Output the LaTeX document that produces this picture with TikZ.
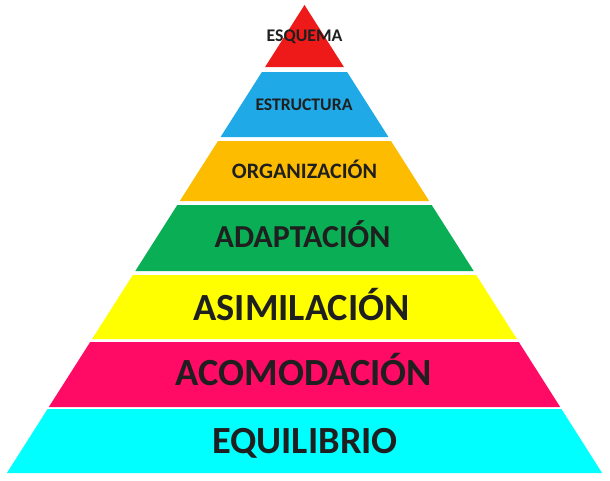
\documentclass[tikz,border=0pt]{standalone}
\usepackage{fontspec}
\setmainfont{Carlito}
\usepackage{tikz}

\definecolor{esqred}{HTML}{EE1A1A}
\definecolor{estblue}{HTML}{1FA9E6}
\definecolor{orgorange}{HTML}{FDBC00}
\definecolor{adagreen}{HTML}{0AAE55}
\definecolor{asiyellow}{HTML}{FFFF00}
\definecolor{acopink}{HTML}{FF0A64}
\definecolor{equcyan}{HTML}{00FFFF}

\tikzset{
  lbl/.style={anchor=base, inner sep=0pt, text=black!88, font=\bfseries},
}

\begin{document}
\begin{tikzpicture}[x=1pt, y=-1pt]
  \filldraw[fill=white, draw=none] (0,0) rectangle (610,480);
  \useasboundingbox (0,0) rectangle (610,480);
  \filldraw[fill=esqred, draw=none] (304.5,5) -- (343.9,67) -- (265.1,67) -- cycle;
  \filldraw[fill=estblue, draw=none] (261.9,72) -- (347.1,72) -- (388.45,137) -- (220.55,137) -- cycle;
  \filldraw[fill=orgorange, draw=none] (218.0,141) -- (391.0,141) -- (429.2,201) -- (179.8,201) -- cycle;
  \filldraw[fill=adagreen, draw=none] (177.3,205) -- (431.7,205) -- (473.7,271) -- (135.3,271) -- cycle;
  \filldraw[fill=asiyellow, draw=none] (132.8,275) -- (476.2,275) -- (516.9,339) -- (92.1,339) -- cycle;
  \filldraw[fill=acopink, draw=none] (90.2,342) -- (518.8,342) -- (560.2,407) -- (48.8,407) -- cycle;
  \filldraw[fill=equcyan, draw=none] (47.6,409) -- (561.4,409) -- (602.1,473) -- (6.9,473) -- cycle;
  \node[lbl, font=\bfseries\fontsize{17.8}{20}\selectfont] (esquema) at (304.5,41) {ESQUEMA};
  \node[lbl, font=\bfseries\fontsize{17.7}{20}\selectfont] (estructura) at (304,110) {ESTRUCTURA};
  \node[lbl, font=\bfseries\fontsize{22}{24}\selectfont] (organizacion) at (304.5,178) {ORGANIZACIÓN};
  \node[lbl, font=\bfseries\fontsize{32}{34}\selectfont] (adaptacion) at (302.5,247) {ADAPTACIÓN};
  \node[lbl, font=\bfseries\fontsize{38.4}{40}\selectfont] (asimilacion) at (301.5,320) {ASIMILACIÓN};
  \node[lbl, font=\bfseries\fontsize{38.4}{40}\selectfont] (acomodacion) at (304,385) {ACOMODACIÓN};
  \node[lbl, font=\bfseries\fontsize{38.4}{40}\selectfont] (equilibrio) at (305,453) {EQUILIBRIO};
\end{tikzpicture}
\end{document}
